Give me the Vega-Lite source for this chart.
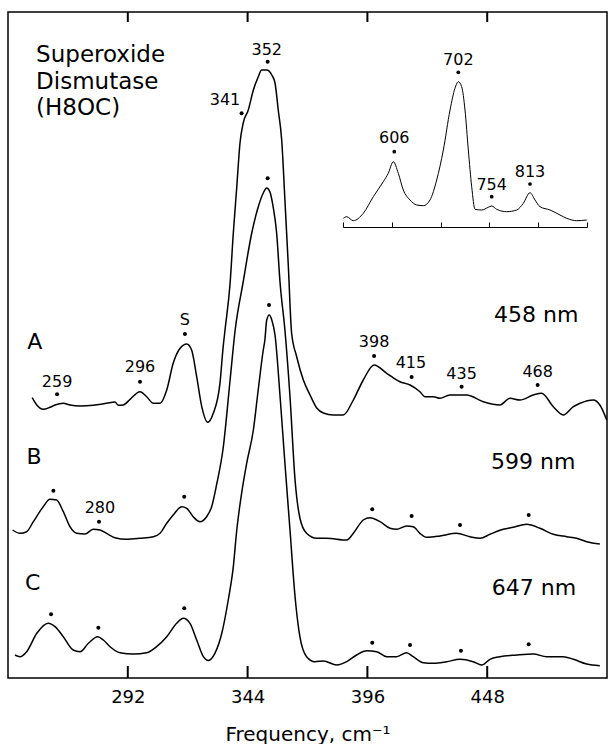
{
  "$schema": "https://vega.github.io/schema/vega-lite/v6.json",
  "width": 599,
  "height": 666,
  "autosize": "none",
  "padding": {"left": 8, "top": 12, "right": 1, "bottom": 66},
  "config": {
    "view": {"stroke": "black", "strokeWidth": 1.5},
    "font": "DejaVu Sans",
    "axis": {"grid": false}
  },
  "datasets": {
    "spectra": [
      {"trace":"A","freq":250.5,"int":280.3},{"trace":"A","freq":252.5,"int":273},{"trace":"A","freq":255.3,"int":268.7},{"trace":"A","freq":258.2,"int":270.7},{"trace":"A","freq":260.4,"int":273},{"trace":"A","freq":264.0,"int":274.7},{"trace":"A","freq":266.9,"int":273},{"trace":"A","freq":271.3,"int":272},{"trace":"A","freq":277.0,"int":272.7},{"trace":"A","freq":282.8,"int":274.7},{"trace":"A","freq":286.4,"int":276},{"trace":"A","freq":287.9,"int":272.7},{"trace":"A","freq":290.0,"int":273},{"trace":"A","freq":293.0,"int":278.7},{"trace":"A","freq":297.3,"int":286.3},{"trace":"A","freq":300.2,"int":281.3},{"trace":"A","freq":303.1,"int":274.7},{"trace":"A","freq":306.0,"int":274.7},{"trace":"A","freq":308.9,"int":288},{"trace":"A","freq":311.7,"int":314.7},{"trace":"A","freq":314.7,"int":329.7},{"trace":"A","freq":317.6,"int":334},{"trace":"A","freq":319.7,"int":328},{"trace":"A","freq":321.9,"int":301.3},{"trace":"A","freq":324.1,"int":271.3},{"trace":"A","freq":326.7,"int":255.7},{"trace":"A","freq":329.1,"int":264.7},{"trace":"A","freq":332.0,"int":294.7},{"trace":"A","freq":333.4,"int":331.3},{"trace":"A","freq":334.2,"int":348},{"trace":"A","freq":336.4,"int":394.7},{"trace":"A","freq":337.8,"int":445},{"trace":"A","freq":339.3,"int":491},{"trace":"A","freq":340.7,"int":535},{"trace":"A","freq":342.1,"int":555},{"trace":"A","freq":344.3,"int":568},{"trace":"A","freq":346.5,"int":588},{"trace":"A","freq":348.6,"int":601},{"trace":"A","freq":350.1,"int":608},{"trace":"A","freq":352.3,"int":608},{"trace":"A","freq":354.5,"int":603},{"trace":"A","freq":355.9,"int":595},{"trace":"A","freq":357.3,"int":568},{"trace":"A","freq":358.8,"int":538},{"trace":"A","freq":360.2,"int":478},{"trace":"A","freq":361.7,"int":411},{"trace":"A","freq":363.1,"int":345},{"trace":"A","freq":365.3,"int":321.3},{"trace":"A","freq":368.2,"int":298},{"trace":"A","freq":371.1,"int":283},{"trace":"A","freq":374.0,"int":270},{"trace":"A","freq":376.9,"int":265},{"trace":"A","freq":381.2,"int":263},{"trace":"A","freq":385.5,"int":263},{"trace":"A","freq":389.9,"int":278},{"trace":"A","freq":394.2,"int":298},{"trace":"A","freq":398.9,"int":313},{"trace":"A","freq":404.4,"int":304.7},{"trace":"A","freq":410.1,"int":296.3},{"trace":"A","freq":414.5,"int":293},{"trace":"A","freq":418.8,"int":286.3},{"trace":"A","freq":421.0,"int":281.3},{"trace":"A","freq":424.6,"int":281.3},{"trace":"A","freq":427.5,"int":279.7},{"trace":"A","freq":431.8,"int":283},{"trace":"A","freq":439.1,"int":283},{"trace":"A","freq":446.3,"int":276.3},{"trace":"A","freq":453.5,"int":273},{"trace":"A","freq":457.9,"int":279.7},{"trace":"A","freq":462.2,"int":278},{"trace":"A","freq":468.0,"int":283},{"trace":"A","freq":471.6,"int":284.7},{"trace":"A","freq":476.7,"int":271.3},{"trace":"A","freq":481.0,"int":263},{"trace":"A","freq":485.4,"int":271.3},{"trace":"A","freq":488.3,"int":274.7},{"trace":"A","freq":494.1,"int":278},{"trace":"A","freq":496.9,"int":273},{"trace":"A","freq":499.9,"int":258},
      {"trace":"B","freq":242.0,"int":148},{"trace":"B","freq":245.2,"int":144.7},{"trace":"B","freq":248.1,"int":146.3},{"trace":"B","freq":251.0,"int":156.3},{"trace":"B","freq":255.3,"int":171.3},{"trace":"B","freq":258.2,"int":178.7},{"trace":"B","freq":261.1,"int":178},{"trace":"B","freq":264.0,"int":166.3},{"trace":"B","freq":266.9,"int":151.3},{"trace":"B","freq":269.8,"int":144.7},{"trace":"B","freq":273.4,"int":144},{"trace":"B","freq":277.0,"int":148.7},{"trace":"B","freq":279.9,"int":148},{"trace":"B","freq":282.8,"int":144.7},{"trace":"B","freq":286.4,"int":140.3},{"trace":"B","freq":291.5,"int":138.7},{"trace":"B","freq":297.3,"int":139.7},{"trace":"B","freq":303.1,"int":141.3},{"trace":"B","freq":306.0,"int":144.7},{"trace":"B","freq":308.9,"int":154.7},{"trace":"B","freq":311.7,"int":163},{"trace":"B","freq":315.4,"int":171.3},{"trace":"B","freq":317.6,"int":169.7},{"trace":"B","freq":320.4,"int":161.3},{"trace":"B","freq":323.3,"int":156.3},{"trace":"B","freq":326.2,"int":161.3},{"trace":"B","freq":328.4,"int":171.3},{"trace":"B","freq":330.6,"int":194},{"trace":"B","freq":333.4,"int":230},{"trace":"B","freq":336.4,"int":298},{"trace":"B","freq":338.6,"int":348},{"trace":"B","freq":342.0,"int":395},{"trace":"B","freq":345.8,"int":445},{"trace":"B","freq":348.6,"int":471},{"trace":"B","freq":350.8,"int":485},{"trace":"B","freq":352.3,"int":490},{"trace":"B","freq":353.7,"int":486},{"trace":"B","freq":355.1,"int":471},{"trace":"B","freq":356.6,"int":445},{"trace":"B","freq":358.1,"int":395},{"trace":"B","freq":360.2,"int":348},{"trace":"B","freq":362.4,"int":281.3},{"trace":"B","freq":364.6,"int":198},{"trace":"B","freq":366.7,"int":160},{"trace":"B","freq":369.6,"int":144.7},{"trace":"B","freq":374.0,"int":139.7},{"trace":"B","freq":378.3,"int":139.7},{"trace":"B","freq":387.0,"int":138},{"trace":"B","freq":389.9,"int":144.7},{"trace":"B","freq":394.2,"int":158},{"trace":"B","freq":397.1,"int":160.3},{"trace":"B","freq":401.5,"int":156.3},{"trace":"B","freq":405.8,"int":149.7},{"trace":"B","freq":408.7,"int":148.7},{"trace":"B","freq":413.0,"int":152},{"trace":"B","freq":415.9,"int":151.3},{"trace":"B","freq":418.8,"int":144.7},{"trace":"B","freq":421.7,"int":140.7},{"trace":"B","freq":427.5,"int":142},{"trace":"B","freq":434.7,"int":144.7},{"trace":"B","freq":440.5,"int":141.3},{"trace":"B","freq":444.9,"int":139.7},{"trace":"B","freq":449.2,"int":143.7},{"trace":"B","freq":455.0,"int":148.7},{"trace":"B","freq":459.3,"int":150.7},{"trace":"B","freq":465.1,"int":153.7},{"trace":"B","freq":470.9,"int":149.7},{"trace":"B","freq":476.7,"int":143.7},{"trace":"B","freq":482.5,"int":141.3},{"trace":"B","freq":486.8,"int":139.7},{"trace":"B","freq":491.2,"int":136.3},{"trace":"B","freq":496.9,"int":134},
      {"trace":"C","freq":243.0,"int":23},{"trace":"C","freq":245.2,"int":21.3},{"trace":"C","freq":248.1,"int":26.3},{"trace":"C","freq":252.5,"int":44.7},{"trace":"C","freq":257.5,"int":54.7},{"trace":"C","freq":260.4,"int":51.3},{"trace":"C","freq":264.0,"int":41.3},{"trace":"C","freq":268.3,"int":28},{"trace":"C","freq":271.3,"int":26.3},{"trace":"C","freq":274.9,"int":34.7},{"trace":"C","freq":278.9,"int":41.3},{"trace":"C","freq":281.4,"int":38},{"trace":"C","freq":284.3,"int":31.3},{"trace":"C","freq":288.6,"int":25.3},{"trace":"C","freq":294.4,"int":24},{"trace":"C","freq":300.2,"int":25.3},{"trace":"C","freq":304.5,"int":31.3},{"trace":"C","freq":308.9,"int":41.3},{"trace":"C","freq":313.2,"int":54.7},{"trace":"C","freq":316.1,"int":59.7},{"trace":"C","freq":319.0,"int":54.7},{"trace":"C","freq":321.9,"int":38},{"trace":"C","freq":324.8,"int":21.3},{"trace":"C","freq":326.9,"int":17.5},{"trace":"C","freq":329.8,"int":24.7},{"trace":"C","freq":332.8,"int":44.7},{"trace":"C","freq":335.6,"int":78},{"trace":"C","freq":337.8,"int":111.3},{"trace":"C","freq":339.3,"int":148},{"trace":"C","freq":341.4,"int":184.7},{"trace":"C","freq":343.6,"int":214.7},{"trace":"C","freq":346.5,"int":248},{"trace":"C","freq":348.6,"int":288},{"trace":"C","freq":350.8,"int":328},{"trace":"C","freq":351.5,"int":338},{"trace":"C","freq":352.3,"int":358},{"trace":"C","freq":353.4,"int":363},{"trace":"C","freq":354.5,"int":358},{"trace":"C","freq":355.9,"int":343},{"trace":"C","freq":358.1,"int":281.3},{"trace":"C","freq":360.2,"int":214.7},{"trace":"C","freq":362.4,"int":148},{"trace":"C","freq":364.6,"int":81.3},{"trace":"C","freq":366.7,"int":41.3},{"trace":"C","freq":369.6,"int":21.3},{"trace":"C","freq":373.2,"int":16.3},{"trace":"C","freq":376.9,"int":17},{"trace":"C","freq":382.7,"int":13},{"trace":"C","freq":387.0,"int":16.3},{"trace":"C","freq":391.3,"int":23},{"trace":"C","freq":395.7,"int":27.3},{"trace":"C","freq":400.0,"int":26.3},{"trace":"C","freq":404.4,"int":21.3},{"trace":"C","freq":408.7,"int":21.3},{"trace":"C","freq":413.0,"int":25.3},{"trace":"C","freq":415.9,"int":21.3},{"trace":"C","freq":420.3,"int":15.3},{"trace":"C","freq":424.6,"int":14.7},{"trace":"C","freq":430.4,"int":16.3},{"trace":"C","freq":436.2,"int":18.7},{"trace":"C","freq":441.9,"int":16.3},{"trace":"C","freq":445.6,"int":13},{"trace":"C","freq":449.2,"int":18.7},{"trace":"C","freq":453.5,"int":21.3},{"trace":"C","freq":460.8,"int":23},{"trace":"C","freq":468.0,"int":24},{"trace":"C","freq":473.8,"int":21.3},{"trace":"C","freq":481.0,"int":21.3},{"trace":"C","freq":485.4,"int":18.7},{"trace":"C","freq":491.2,"int":14},{"trace":"C","freq":496.9,"int":12.3}
    ],
    "dots": [
      {"freq":261.3,"int":283.7},{"freq":297.3,"int":296.3},{"freq":316.8,"int":344},{"freq":341.4,"int":564.7},{"freq":352.7,"int":616.3},{"freq":398.9,"int":322},{"freq":415.2,"int":301},{"freq":436.9,"int":291.3},{"freq":469.9,"int":293},
      {"freq":259.7,"int":187.3},{"freq":279.5,"int":156.3},{"freq":316.5,"int":181.3},{"freq":352.7,"int":499.7},{"freq":398.1,"int":168.7},{"freq":415.2,"int":162},{"freq":436.2,"int":153},{"freq":466.0,"int":163},
      {"freq":258.7,"int":63.7},{"freq":279.2,"int":50.3},{"freq":316.5,"int":69.7},{"freq":353.3,"int":373},{"freq":398.1,"int":35.3},{"freq":414.5,"int":33},{"freq":436.6,"int":27.3},{"freq":466.0,"int":33.7}
    ],
    "peakLabels": [
      {"label":"259","freq":261.3,"int":296.3},{"label":"296","freq":297.3,"int":310.7},{"label":"S","freq":316.8,"int":358},{"label":"341","freq":334.2,"int":578},{"label":"352","freq":352.3,"int":628},{"label":"398","freq":398.9,"int":336.3},{"label":"415","freq":414.9,"int":315.3},{"label":"435","freq":436.9,"int":304},{"label":"468","freq":469.9,"int":306.3},{"label":"280","freq":279.9,"int":169.7}
    ],
    "bigLabels": [
      {"label":"A","freq":251.6,"int":336.3},{"label":"B","freq":251.3,"int":221.3},{"label":"C","freq":250.7,"int":94.7},
      {"label":"458 nm","freq":469.3,"int":363},{"label":"599 nm","freq":468.0,"int":216.3},{"label":"647 nm","freq":468.3,"int":90.3}
    ],
    "titleLines": [
      {"label":"Superoxide","freq":252.2,"int":623},{"label":"Dismutase","freq":252.2,"int":596.3},{"label":"(H8OC)","freq":252.2,"int":570}
    ],
    "tickValues": [
      {"freq":292,"lo":0,"hi":12,"hiTop":666,"loTop":656},{"freq":344,"lo":0,"hi":12,"hiTop":666,"loTop":656},{"freq":396,"lo":0,"hi":12,"hiTop":666,"loTop":656},{"freq":448,"lo":0,"hi":12,"hiTop":666,"loTop":656}
    ],
    "inset": [
      {"freq":525.5,"int":459.7},{"freq":530.7,"int":461.3},{"freq":540.8,"int":457.3},{"freq":556.2,"int":464.7},{"freq":571.6,"int":481.3},{"freq":586.9,"int":496.3},{"freq":594.6,"int":504.7},{"freq":602.3,"int":516.3},{"freq":610.0,"int":504.7},{"freq":617.7,"int":488},{"freq":628.0,"int":478},{"freq":638.3,"int":473},{"freq":648.4,"int":472.3},{"freq":658.7,"int":478},{"freq":669.0,"int":498},{"freq":679.2,"int":528},{"freq":689.5,"int":568},{"freq":697.1,"int":589.7},{"freq":702.2,"int":596.3},{"freq":707.4,"int":591.3},{"freq":712.5,"int":568},{"freq":717.6,"int":528},{"freq":722.8,"int":491.3},{"freq":727.9,"int":468.7},{"freq":738.2,"int":468},{"freq":748.3,"int":470.7},{"freq":753.5,"int":472},{"freq":761.2,"int":468.7},{"freq":776.6,"int":466.3},{"freq":792.0,"int":468},{"freq":802.1,"int":474.7},{"freq":812.4,"int":485.3},{"freq":820.1,"int":478},{"freq":827.8,"int":471.3},{"freq":843.2,"int":468},{"freq":858.5,"int":463},{"freq":868.8,"int":459.7},{"freq":884.2,"int":457.3},{"freq":899.6,"int":458}
    ],
    "insetDots": [
      {"freq":603.8,"int":526.3},{"freq":702.2,"int":605.7},{"freq":753.5,"int":481.3},{"freq":812.4,"int":494}
    ],
    "insetLabels": [
      {"label":"606","freq":603.8,"int":539.7},{"label":"702","freq":702.2,"int":618},{"label":"754","freq":753.5,"int":493},{"label":"813","freq":812.4,"int":506.3}
    ]
  },
  "layer": [
    {
      "data": {"name": "spectra"},
      "mark": {"type": "line", "color": "black", "strokeWidth": 1.5, "interpolate": "monotone"},
      "encoding": {
        "x": {"field": "freq", "type": "quantitative", "scale": {"domain": [240, 500], "nice": false, "zero": false},
              "axis": {"orient": "bottom", "values": [292, 344, 396, 448], "ticks": false, "tickSize": 0, "domain": false, "labelPadding": 10, "labelFontSize": 18, "labelColor": "black", "title": "Frequency, cm⁻¹", "titleFontSize": 20, "titleFontWeight": "normal", "titleColor": "black", "titlePadding": 18}},
        "y": {"field": "int", "type": "quantitative", "scale": {"domain": [0, 666], "nice": false, "zero": false}, "axis": null},
        "detail": {"field": "trace"}
      }
    },
    {
      "data": {"name": "tickValues"},
      "mark": {"type": "rule", "color": "black", "strokeWidth": 2},
      "encoding": {
        "x": {"field": "freq", "type": "quantitative", "scale": {"domain": [240, 500], "nice": false, "zero": false}, "axis": null},
        "y": {"field": "lo", "type": "quantitative"},
        "y2": {"field": "hi"}
      }
    },
    {
      "data": {"name": "tickValues"},
      "mark": {"type": "rule", "color": "black", "strokeWidth": 2},
      "encoding": {
        "x": {"field": "freq", "type": "quantitative", "scale": {"domain": [240, 500], "nice": false, "zero": false}, "axis": null},
        "y": {"field": "loTop", "type": "quantitative"},
        "y2": {"field": "hiTop"}
      }
    },
    {
      "data": {"name": "dots"},
      "mark": {"type": "circle", "color": "black", "size": 16, "opacity": 1},
      "encoding": {
        "x": {"field": "freq", "type": "quantitative", "scale": {"domain": [240, 500], "nice": false, "zero": false}, "axis": null},
        "y": {"field": "int", "type": "quantitative"}
      }
    },
    {
      "data": {"name": "peakLabels"},
      "mark": {"type": "text", "fontSize": 16, "align": "center", "baseline": "middle", "color": "black"},
      "encoding": {
        "x": {"field": "freq", "type": "quantitative", "scale": {"domain": [240, 500], "nice": false, "zero": false}, "axis": null},
        "y": {"field": "int", "type": "quantitative"},
        "text": {"field": "label"}
      }
    },
    {
      "data": {"name": "bigLabels"},
      "mark": {"type": "text", "fontSize": 22, "align": "center", "baseline": "middle", "color": "black"},
      "encoding": {
        "x": {"field": "freq", "type": "quantitative", "scale": {"domain": [240, 500], "nice": false, "zero": false}, "axis": null},
        "y": {"field": "int", "type": "quantitative"},
        "text": {"field": "label"}
      }
    },
    {
      "data": {"name": "titleLines"},
      "mark": {"type": "text", "fontSize": 23, "align": "left", "baseline": "middle", "color": "black"},
      "encoding": {
        "x": {"field": "freq", "type": "quantitative", "scale": {"domain": [240, 500], "nice": false, "zero": false}, "axis": null},
        "y": {"field": "int", "type": "quantitative"},
        "text": {"field": "label"}
      }
    },
    {
      "data": {"name": "inset"},
      "mark": {"type": "line", "color": "black", "strokeWidth": 1, "interpolate": "monotone"},
      "encoding": {
        "x": {"field": "freq", "type": "quantitative", "scale": {"domain": [525, 900], "range": [335, 579], "nice": false, "zero": false},
              "axis": {"orient": "top", "offset": -215, "values": [525, 600, 675, 750, 825, 900], "ticks": true, "tickSize": 5, "tickColor": "black", "tickWidth": 1, "domain": true, "domainColor": "black", "domainWidth": 1, "labels": false, "title": null}},
        "y": {"field": "int", "type": "quantitative"}
      }
    },
    {
      "data": {"name": "insetDots"},
      "mark": {"type": "circle", "color": "black", "size": 14, "opacity": 1},
      "encoding": {
        "x": {"field": "freq", "type": "quantitative", "scale": {"domain": [525, 900], "range": [335, 579], "nice": false, "zero": false}, "axis": null},
        "y": {"field": "int", "type": "quantitative"}
      }
    },
    {
      "data": {"name": "insetLabels"},
      "mark": {"type": "text", "fontSize": 16, "align": "center", "baseline": "middle", "color": "black"},
      "encoding": {
        "x": {"field": "freq", "type": "quantitative", "scale": {"domain": [525, 900], "range": [335, 579], "nice": false, "zero": false}, "axis": null},
        "y": {"field": "int", "type": "quantitative"},
        "text": {"field": "label"}
      }
    }
  ],
  "resolve": {"scale": {"x": "independent"}, "axis": {"x": "independent"}}
}
